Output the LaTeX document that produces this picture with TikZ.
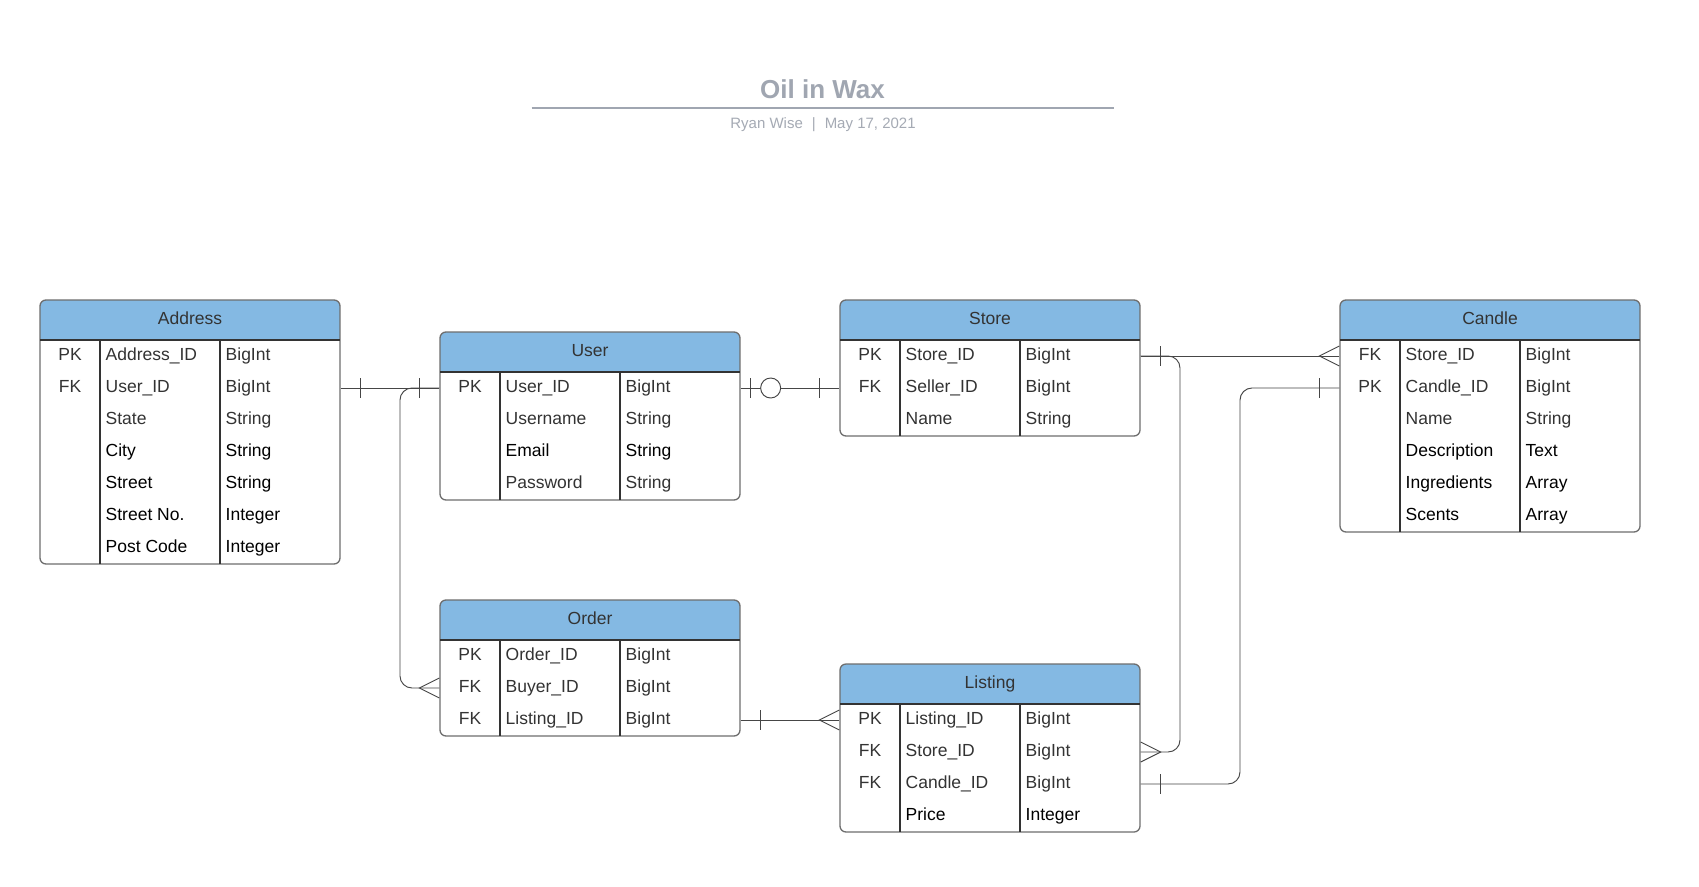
\documentclass[tikz,border=0pt]{standalone}
\usepackage{fontspec}
\setmainfont{Liberation Sans}
\usetikzlibrary{calc}
\definecolor{hdr}{RGB}{132,185,227}
\definecolor{boxedge}{RGB}{110,110,110}
\definecolor{ink}{RGB}{51,51,51}
\definecolor{conn}{RGB}{70,70,70}
\definecolor{titlegray}{RGB}{160,166,177}
\definecolor{subgray}{RGB}{165,170,180}
\tikzset{
  tbl/.style={draw=boxedge, line width=1.3pt, rounded corners=6pt, rectangle, minimum width=300pt, inner sep=0pt},
  divider/.style={draw=ink, line width=1.2pt},
  cell/.style={inner sep=0pt, font=\fontsize{17.5}{20}\selectfont},
  hdrtext/.style={inner sep=0pt, text=ink, font=\fontsize{17.5}{20}\selectfont},
  connline/.style={draw=conn, line width=0.95pt, rounded corners=12pt},
  ermark/.style={draw=conn, line width=0.95pt},
}
% #1 name, #2 x, #3 top y, #4 title, #5 number of rows, #6 rows
\newcommand\ertable[6]{%
  \pgfmathsetmacro\tblh{40+32*#5}%
  \begin{scope}
    \clip[rounded corners=6pt] (#2,#3) rectangle ++(300,\tblh);
    \fill[hdr] (#2,#3) rectangle ++(300,40);
  \end{scope}
  \node[tbl, minimum height=\tblh pt] (#1) at ($(#2,#3)+(150,\tblh/2)$) {};
  \draw[divider] (#2,#3+40) -- ++(300,0);
  \draw[divider] (#2+60,#3+40) -- (#2+60,#3+\tblh);
  \draw[divider] (#2+180,#3+40) -- (#2+180,#3+\tblh);
  \node[hdrtext, anchor=base] (#1-title) at (#2+150,#3+24.3) {#4};
  \foreach \k/\n/\t/\c [count=\i] in {#6} {
    \pgfmathsetmacro\yc{#3+40+32*\i-16+4.5}
    \node[cell, anchor=base, text=\c] (#1-k\i) at (#2+30,\yc) {\k};
    \node[cell, anchor=base west, text=\c] (#1-n\i) at (#2+65.5,\yc) {\n};
    \node[cell, anchor=base west, text=\c] (#1-t\i) at (#2+185.5,\yc) {\t};
  }
}
\begin{document}
\begin{tikzpicture}[x=1pt,y=-1pt]
\fill[white] (0,0) rectangle (1699,886);
\useasboundingbox (0,0) rectangle (1699,886);

% title
\node[inner sep=0pt, anchor=base, text=titlegray, font=\fontsize{26}{30}\selectfont\bfseries] (title) at (822.5,98.3) {Oil in Wax};
\coordinate (ul1) at (531.5,107.5);
\coordinate (ul2) at (1114,107.5);
\draw[titlegray, line width=2pt] (ul1) -- (ul2);
\node[inner sep=0pt, anchor=base, text=subgray, font=\fontsize{15}{18}\selectfont] (subtitle) at (823,128.3) {Ryan Wise\hspace{9pt}|\hspace{9pt}May 17, 2021};

% tables
\ertable{address}{40}{300}{Address}{7}{PK/Address\_ID/BigInt/ink, FK/User\_ID/BigInt/ink, /State/String/ink, /City/String/black, /Street/String/black, /Street No./Integer/black, /Post Code/Integer/black}
\ertable{user}{440}{332}{User}{4}{PK/User\_ID/BigInt/ink, /Username/String/ink, /Email/String/black, /Password/String/ink}
\ertable{store}{840}{300}{Store}{3}{PK/Store\_ID/BigInt/ink, FK/Seller\_ID/BigInt/ink, /Name/String/ink}
\ertable{candle}{1340}{300}{Candle}{6}{FK/Store\_ID/BigInt/ink, PK/Candle\_ID/BigInt/ink, /Name/String/ink, /Description/Text/black, /Ingredients/Array/black, /Scents/Array/black}
\ertable{order}{440}{600}{Order}{3}{PK/Order\_ID/BigInt/ink, FK/Buyer\_ID/BigInt/ink, FK/Listing\_ID/BigInt/ink}
\ertable{listing}{840}{664}{Listing}{4}{PK/Listing\_ID/BigInt/ink, FK/Store\_ID/BigInt/ink, FK/Candle\_ID/BigInt/ink, /Price/Integer/black}

% connector end points (on table edges)
\coordinate (addrR2) at (address.east |- 0,388);
\coordinate (userL1) at (user.west |- 0,388);
\coordinate (userR1) at (user.east |- 0,388);
\coordinate (orderL2) at (order.west |- 0,688);
\coordinate (orderR3) at (order.east |- 0,720);
\coordinate (storeL2) at (store.west |- 0,388);
\coordinate (storeR1) at (store.east |- 0,356);
\coordinate (candleL1) at (candle.west |- 0,356);
\coordinate (candleL2) at (candle.west |- 0,388);
\coordinate (listL1) at (listing.west |- 0,720);
\coordinate (listR2) at (listing.east |- 0,752);
\coordinate (listR3) at (listing.east |- 0,784);

% Address -- User
\draw[connline] (addrR2) -- (userL1);
\draw[ermark] ($(addrR2)+(20,-10)$) -- ++(0,20);
\draw[ermark] ($(userL1)+(-20,-10)$) -- ++(0,20);

% User -- Order
\draw[connline] (userL1) -| (400,688) -- (orderL2);
\draw[ermark] ($(orderL2)+(0,-10)$) -- ($(orderL2)+(-20,0)$) -- ($(orderL2)+(0,10)$);

% User -- Store
\draw[connline] (userR1) -- (storeL2);
\draw[ermark] ($(userR1)+(10,-10)$) -- ++(0,20);
\draw[ermark, fill=white] ($(userR1)+(30,0)$) circle (10);
\draw[ermark] ($(storeL2)+(-20,-10)$) -- ++(0,20);

% Store -- Candle
\draw[connline] (storeR1) -- (candleL1);
\draw[ermark] ($(storeR1)+(20,-10)$) -- ++(0,20);
\draw[ermark] ($(candleL1)+(0,-10)$) -- ($(candleL1)+(-20,0)$) -- ($(candleL1)+(0,10)$);

% Store -- Listing
\draw[connline] (storeR1) -| (1180,752) -- (listR2);
\draw[ermark] ($(listR2)+(0,-10)$) -- ($(listR2)+(20,0)$) -- ($(listR2)+(0,10)$);

% Candle -- Listing
\draw[connline] (candleL2) -| (1240,784) -- (listR3);
\draw[ermark] ($(candleL2)+(-20,-10)$) -- ++(0,20);
\draw[ermark] ($(listR3)+(20,-10)$) -- ++(0,20);

% Order -- Listing
\draw[connline] (orderR3) -- (listL1);
\draw[ermark] ($(orderR3)+(20,-10)$) -- ++(0,20);
\draw[ermark] ($(listL1)+(0,-10)$) -- ($(listL1)+(-20,0)$) -- ($(listL1)+(0,10)$);
\end{tikzpicture}
\end{document}
